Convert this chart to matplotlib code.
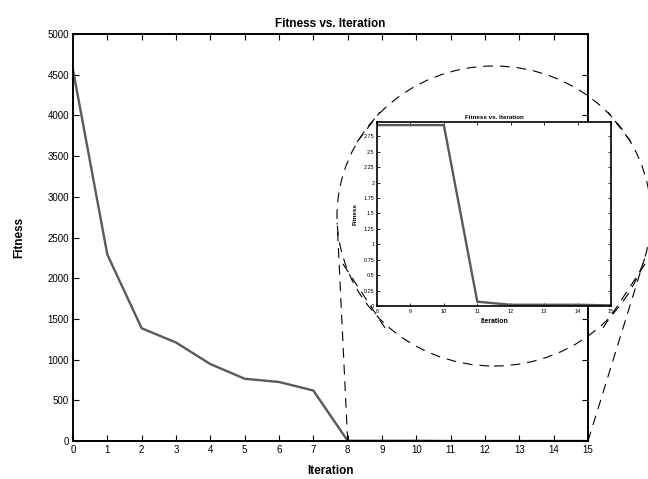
import numpy as np
import matplotlib
matplotlib.use("Agg")
import matplotlib.pyplot as plt
from matplotlib.patches import Ellipse
from matplotlib.lines import Line2D

plt.rcParams['font.family'] = ['Liberation Sans', 'DejaVu Sans']
plt.rcParams['lines.scale_dashes'] = False

# data
iterations = [0, 1, 2, 3, 4, 5, 6, 7, 8, 9, 10, 11, 12, 13, 14, 15]
fitness = [4560, 2290, 1385, 1210, 945, 765, 725, 620,
           2.93, 2.93, 2.93, 0.07, 0.02, 0.02, 0.02, 0.01]
main_yticks = [0, 500, 1000, 1500, 2000, 2500, 3000, 3500, 4000, 4500, 5000]
zoom_start = 8
inset_yticks = [0, 0.25, 0.5, 0.75, 1, 1.25, 1.5, 1.75, 2, 2.25, 2.5, 2.75]
inset_ylabels = ['0', '0.25', '0.5', '0.75', '1', '1.25', '1.5', '1.75',
                 '2', '2.25', '2.5', '2.75']

line_col = '#5a5a5a'
W, H = 648, 479
fig = plt.figure(figsize=(6.48, 4.79), dpi=100)

def px(x, y):
    """image pixel (y down) -> figure fraction"""
    return x / W, 1 - y / H

# main axes
ax = fig.add_axes([73 / W, 1 - 441 / H, 515 / W, 407 / H])
ax.plot(iterations, fitness, color=line_col, lw=1.7)
ax.set_xlim(0, 15)
ax.set_ylim(0, 5000)
ax.set_xticks(iterations)
ax.set_yticks(main_yticks)
ax.tick_params(direction='in', top=True, right=True, length=4, width=0.8,
               labelsize=7, pad=3)
for s in ax.spines.values():
    s.set_linewidth(1.4)
ax.set_title('Fitness vs. Iteration', fontsize=8.5, fontweight='bold', pad=5)
ax.set_xlabel('Iteration', fontsize=8.5, fontweight='bold', labelpad=7)
ax.set_ylabel('Fitness', fontsize=8.5, fontweight='bold', labelpad=16)

# magnifier ellipse (figure pixel geometry)
cx, cy, rx, ry = 494, 216, 157, 150
dash = (0, (7, 5))
ell = Ellipse(px(cx, cy), 2 * rx / W, 2 * ry / H, transform=fig.transFigure,
              fill=False, ec='black', lw=0.8, linestyle=dash, zorder=1)
fig.add_artist(ell)

def tangent(p, side):
    # tangent point from p (below the ellipse) to ellipse, image pixel coords
    t = np.linspace(0, 2 * np.pi, 3600)
    ex = cx + rx * np.cos(t)
    ey = cy + ry * np.sin(t)
    ang = np.arctan2(ex - p[0], p[1] - ey)
    i = np.argmin(ang) if side == 'left' else np.argmax(ang)
    return ex[i], ey[i]

def seg(p0, p1):
    a, b = px(*p0)
    c, d = px(*p1)
    fig.add_artist(Line2D([a, c], [b, d], transform=fig.transFigure,
                          color='black', lw=0.8, linestyle=dash, zorder=1))

for xv, side in [(zoom_start, 'left'), (iterations[-1], 'right')]:
    dx, dy = ax.transData.transform((xv, 0))
    p = (dx, H - dy)
    seg(p, tangent(p, side))

# short chords near inset corners
for p0, p1 in [((357, 142), (380, 112)), ((631, 142), (608, 112)),
               ((343, 264), (389, 334)), ((645, 264), (599, 334))]:
    seg(p0, p1)

# inset
ins = fig.add_axes([377 / W, 1 - 306 / H, 234 / W, 184 / H], zorder=5)
ins.plot(iterations[zoom_start:], fitness[zoom_start:], color=line_col, lw=1.7)
ins.set_xlim(zoom_start, iterations[-1])
ins.set_ylim(0, 2.98)
ins.set_xticks(iterations[zoom_start:])
ins.set_yticks(inset_yticks)
ins.set_yticklabels(inset_ylabels)
ins.tick_params(direction='in', top=True, right=True, length=2.5, width=0.6,
                labelsize=4, pad=2)
for s in ins.spines.values():
    s.set_linewidth(1.2)
ins.set_title('Fitness vs. Iteration', fontsize=4.5, fontweight='bold', pad=2)
ins.set_xlabel('Iteration', fontsize=5, fontweight='bold', labelpad=3)
ins.set_ylabel('Fitness', fontsize=4.5, fontweight='bold', labelpad=4)

fig.savefig('out.png', dpi=100)
